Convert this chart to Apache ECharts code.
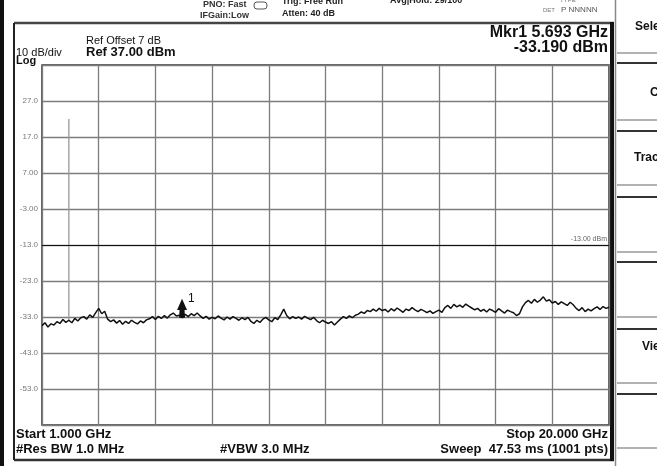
<!DOCTYPE html>
<html>
<head>
<meta charset="utf-8">
<title>Spectrum</title>
<script src="https://cdn.jsdelivr.net/npm/echarts@6/dist/echarts.min.js"></script>
<style>
  html, body { margin: 0; padding: 0; background: #fff; }
  #main { width: 657px; height: 466px; }
</style>
</head>
<body>
<div id="main"></div>
<script>
// sweep settings from the screen
var startGHz = 1.0;
var stopGHz = 20.0;
var stepGHz = 0.1;

// trace level (dBm), every 0.1 GHz
var traceDbm = [
  -35.4, -34.6, -35.8, -34.9, -35.2, -34.3,
  -34.8, -33.7, -34.5, -33.9, -34.6, -33.4, -34.1, -33.2,
  -32.9, -33.6, -32.4, -33.1, -31.8,
  -30.6, -32.1, -31.4,
  -33.6, -34.3, -33.8, -34.7, -34.0, -35.0, -34.2, -34.8, -33.9, -34.5, -34.9, -34.1, -34.6, -33.8,
  -33.5, -32.9, -33.7, -32.8, -33.4, -32.6, -33.3, -32.4, -31.9, -32.7, -32.5,
  -33.2,
  -32.3, -32.9, -32.1, -32.6, -31.9, -32.7,
  -33.4, -32.8, -33.6, -33.1, -33.5, -32.7, -33.3, -33.8, -33.0, -33.6, -32.9, -33.4, -33.9, -33.2, -33.7, -33.1,
  -34.2, -34.8, -33.9, -34.5,
  -33.6, -33.1, -33.8, -34.3, -33.2, -33.7, -32.4,
  -30.8,
  -32.6, -33.5, -32.9, -33.4, -33.0, -33.6, -32.8, -33.3, -33.7, -33.1,
  -34.0, -34.6, -33.9, -34.4, -34.8, -34.3, -35.2, -34.4,
  -33.6, -32.9, -33.4, -32.7, -33.2, -32.5, -32.2,
  -31.6, -32.0, -31.2, -31.5,
  -30.8, -31.4, -30.6, -31.2, -30.9, -31.6, -30.7, -31.3, -30.5, -31.1, -31.7, -30.8, -31.2, -30.4, -31.0, -31.5, -30.9, -31.3,
  -31.8, -31.3, -32.0, -31.5, -31.1, -31.7,
  -30.4, -29.8, -30.6, -29.5, -30.2, -29.7, -30.3, -29.4, -30.0, -30.5,
  -31.0, -30.6, -31.4, -30.9, -31.6, -30.8, -31.2, -31.7, -30.7, -31.3, -31.9, -31.1, -31.5, -31.8,
  -32.6, -32.1,
  -30.2, -29.0, -28.4, -29.2, -28.1, -28.9, -28.3, -27.4, -28.6,
  -28.2, -29.1, -28.7, -29.5, -28.8, -29.3, -29.8, -28.9, -29.6,
  -30.6, -31.2, -30.4, -31.5, -30.8, -31.3, -30.7,
  -30.2, -30.9, -30.1, -30.6, -30.3
];

// narrow signal near the left edge (drawn grey on screen)
var spikeGHz = 1.9;
var spikeDbm = [-34.0, 22.0];

// marker 1 and display line
var markerGHz = 5.693;
var markerDbm = -33.19;
var displayLineDbm = -13;

// reference level, scale
var refDbm = 37;
var dbPerDiv = 10;
var yTickLabels = ['-53.0', '-43.0', '-33.0', '-23.0', '-13.0', '-3.00', '7.00', '17.0', '27.0'];

var softkeys = ['Select Trace', 'Clear Write', 'Trace Average', 'View/Blank'];

var chart = echarts.init(document.getElementById('main'));

var tracePts = traceDbm.map(function (v, i) {
  return [startGHz + i * stepGHz, v];
});
var spikePts = spikeDbm.map(function (v) { return [spikeGHz, v]; });

var font = '"Liberation Sans", Arial, sans-serif';

function txt(x, y, s, size, weight, align, color) {
  return {
    type: 'text',
    silent: true,
    style: {
      x: x, y: y, text: s,
      font: (weight || 'normal') + ' ' + size + 'px ' + font,
      fill: color || '#111',
      textAlign: align || 'left',
      textVerticalAlign: 'middle'
    }
  };
}
function ln(x1, y1, x2, y2, color, w) {
  return {
    type: 'line', silent: true,
    shape: { x1: x1, y1: y1, x2: x2, y2: y2 },
    style: { stroke: color, lineWidth: w }
  };
}

var graphics = [
  // dark strip at far left
  { type: 'rect', silent: true, shape: { x: 0, y: 0, width: 4, height: 466 }, style: { fill: '#111' } },
  // frame around the measurement
  ln(14, 23, 614, 23, '#444', 2.5),
  ln(14, 23, 14, 460, '#222', 2),
  ln(14, 460, 614, 460, '#333', 2.5),
  { type: 'rect', silent: true, shape: { x: 610, y: 22, width: 4, height: 439 }, style: { fill: '#111' } },
  // softkey panel
  ln(615.5, 0, 615.5, 466, '#888', 1.5)
];

var keyTops = [-10, 63, 131, 197, 262, 329, 394];
var keyBottoms = [53, 120, 185, 252, 317, 383, 448];
keyTops.forEach(function (t, i) {
  if (t > 0) graphics.push(ln(617, t, 657, t, '#333', 2));
  graphics.push(ln(617, keyBottoms[i], 657, keyBottoms[i], '#999', 1.5));
});
graphics.push(txt(635, 27, softkeys[0], 12, 'bold'));
graphics.push(txt(650, 93, softkeys[1], 12, 'bold'));
graphics.push(txt(634, 158, softkeys[2], 12, 'bold'));
graphics.push(txt(642, 347, softkeys[3], 12, 'bold'));

// header
graphics.push(txt(203, 5, 'PNO: Fast', 9, 'bold', 'left', '#333'));
graphics.push(txt(200, 16, 'IFGain:Low', 9, 'bold', 'left', '#333'));
graphics.push({ type: 'rect', silent: true, shape: { x: 254, y: 2, width: 13, height: 7, r: 3 }, style: { fill: 'none', stroke: '#555', lineWidth: 1 } });
graphics.push(txt(282, 2, 'Trig: Free Run', 9, 'bold', 'left', '#222'));
graphics.push(txt(282, 14, 'Atten: 40 dB', 9, 'bold', 'left', '#222'));
graphics.push(txt(390, 1, 'Avg|Hold: 29/100', 9, 'bold', 'left', '#222'));
graphics.push(txt(560, 0, 'TYPE', 6, 'normal', 'left', '#777'));
graphics.push(txt(543, 10, 'DET', 6, 'normal', 'left', '#777'));
graphics.push(txt(561, 10, 'P NNNNN', 8, 'normal', 'left', '#555'));

// text inside frame
graphics.push(txt(86, 41, 'Ref Offset 7 dB', 11, 'normal'));
graphics.push(txt(86, 52, 'Ref ' + refDbm.toFixed(2) + ' dBm', 13, 'bold'));
graphics.push(txt(16, 53, dbPerDiv + ' dB/div', 11, 'normal'));
graphics.push(txt(16, 61, 'Log', 11, 'bold'));
graphics.push(txt(608, 33, 'Mkr1 ' + markerGHz.toFixed(3) + ' GHz', 16, 'bold', 'right'));
graphics.push(txt(608, 48, markerDbm.toFixed(3) + ' dBm', 16, 'bold', 'right'));

// footer
graphics.push(txt(16, 434, 'Start ' + startGHz.toFixed(3) + ' GHz', 13, 'bold'));
graphics.push(txt(16, 449, '#Res BW 1.0 MHz', 13, 'bold'));
graphics.push(txt(220, 449, '#VBW 3.0 MHz', 13, 'bold'));
graphics.push(txt(608, 434, 'Stop ' + stopGHz.toFixed(3) + ' GHz', 13, 'bold', 'right'));
graphics.push(txt(608, 449, 'Sweep  47.53 ms (1001 pts)', 13, 'bold', 'right'));

var option = {
  backgroundColor: '#fff',
  animation: false,
  grid: {
    left: 42, top: 65, width: 567, height: 360,
    show: true, borderColor: '#333', borderWidth: 1.5,
    backgroundColor: 'transparent'
  },
  xAxis: [
    { type: 'value', min: startGHz, max: stopGHz, show: false },
    {
      type: 'value', min: 0, max: 10, interval: 1,
      axisLine: { show: false }, axisTick: { show: false }, axisLabel: { show: false },
      splitLine: { show: true, lineStyle: { color: '#7c7c7c', width: 1.3 } }
    }
  ],
  yAxis: [
    { type: 'value', min: refDbm - 10 * dbPerDiv, max: refDbm, show: false },
    {
      type: 'value', min: 0, max: 10, interval: 1, position: 'left',
      axisLine: { show: false }, axisTick: { show: false },
      axisLabel: {
        show: true, margin: 4, showMinLabel: false, showMaxLabel: false,
        color: '#777', fontSize: 8, fontFamily: font,
        formatter: function (v) { return yTickLabels[v - 1] || ''; }
      },
      splitLine: { show: true, lineStyle: { color: '#7c7c7c', width: 1.3 } }
    }
  ],
  series: [
    {
      type: 'line', xAxisIndex: 0, yAxisIndex: 0,
      data: spikePts, symbol: 'none',
      lineStyle: { color: '#999', width: 1.3 }
    },
    {
      type: 'line', xAxisIndex: 0, yAxisIndex: 0,
      data: tracePts, symbol: 'none',
      lineStyle: { color: '#111', width: 1.5 },
      markLine: {
        silent: true, symbol: 'none',
        lineStyle: { color: '#111', width: 1.2, type: 'solid' },
        label: {
          show: true, position: 'insideEndTop', formatter: displayLineDbm.toFixed(2) + ' dBm',
          fontSize: 7, color: '#666', fontFamily: font, distance: 2
        },
        data: [{ yAxis: displayLineDbm }]
      },
      markPoint: {
        silent: true,
        symbol: 'path://M5,0 L10,12 L7.5,12 L8,20 L2,20 L2.5,12 L0,12 Z',
        symbolSize: [10, 19],
        symbolOffset: [0, '-50%'],
        itemStyle: { color: '#111' },
        label: {
          show: true, formatter: '1', position: [11, -6],
          color: '#111', fontSize: 12, fontFamily: font
        },
        data: [{ coord: [markerGHz, markerDbm] }]
      }
    }
  ],
  graphic: graphics
};

chart.setOption(option);
</script>
</body>
</html>
